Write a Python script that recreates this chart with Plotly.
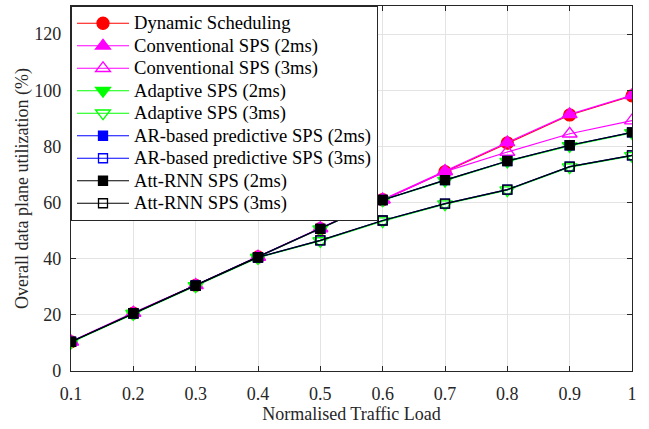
import plotly.graph_objects as go

load = [0.1, 0.2, 0.3, 0.4, 0.5, 0.6, 0.7, 0.8, 0.9, 1.0]
x_ticks = [0.1, 0.2, 0.3, 0.4, 0.5, 0.6, 0.7, 0.8, 0.9, 1.0]
x_tick_labels = ["0.1", "0.2", "0.3", "0.4", "0.5", "0.6", "0.7", "0.8", "0.9", "1"]
y_ticks = [0, 20, 40, 60, 80, 100, 120]

dynamic = [10.4, 20.6, 30.5, 40.6, 50.7, 61.0, 71.0, 81.2, 91.2, 98.0]
conv_2ms = [10.5, 20.7, 30.6, 40.7, 50.9, 61.1, 71.2, 81.4, 91.4, 98.2]
conv_3ms = [10.4, 20.6, 30.5, 40.6, 50.7, 61.0, 71.0, 78.0, 84.5, 89.2]
adapt_2ms = [10.3, 20.4, 30.3, 40.4, 50.5, 60.8, 67.8, 74.6, 80.2, 84.8]
adapt_3ms = [10.3, 20.4, 30.3, 40.4, 46.3, 53.4, 59.4, 64.4, 72.6, 76.6]
ar_2ms = [10.4, 20.5, 30.4, 40.5, 50.6, 60.9, 68.0, 74.8, 80.4, 85.0]
ar_3ms = [10.4, 20.5, 30.4, 40.5, 46.5, 53.6, 59.6, 64.6, 72.8, 76.8]
att_2ms = [10.4, 20.5, 30.4, 40.5, 50.6, 60.9, 68.0, 74.8, 80.4, 85.0]
att_3ms = [10.4, 20.5, 30.4, 40.5, 46.5, 53.6, 59.6, 64.6, 72.8, 76.8]

series = [
    ("Dynamic Scheduling", dynamic, "#ff0000", "circle", 12),
    ("Conventional SPS (2ms)", conv_2ms, "#ff00ff", "triangle-up", 13),
    ("Conventional SPS (3ms)", conv_3ms, "#ff00ff", "triangle-up-open", 13),
    ("Adaptive SPS (2ms)", adapt_2ms, "#00ff00", "triangle-down", 13),
    ("Adaptive SPS (3ms)", adapt_3ms, "#00ff00", "triangle-down-open", 13),
    ("AR-based predictive SPS (2ms)", ar_2ms, "#0000ff", "square", 9),
    ("AR-based predictive SPS (3ms)", ar_3ms, "#0000ff", "square-open", 9),
    ("Att-RNN SPS (2ms)", att_2ms, "#000000", "square", 9),
    ("Att-RNN SPS (3ms)", att_3ms, "#000000", "square-open", 9),
]

font_family = "Liberation Serif"
legend_text_px = 18.6

fig = go.Figure()
for name, vals, color, sym, size in series:
    fig.add_trace(go.Scatter(
        x=load, y=vals,
        name="<span style='font-size:%spx'>%s</span>" % (legend_text_px, name),
        mode="lines+markers",
        line=dict(color=color, width=1.2),
        marker=dict(symbol=sym, size=size, color=color,
                    line=dict(color=color, width=1.3)),
    ))

axis_common = dict(
    showline=True, linecolor="#262626", linewidth=1.2, mirror="ticks",
    ticks="inside", ticklen=5, tickcolor="#262626",
    showgrid=True, gridcolor="#e3e3e3", gridwidth=1, zeroline=False,
    tickfont=dict(family=font_family, size=18, color="#262626"),
    automargin=False,
)

fig.update_layout(
    width=649, height=429,
    margin=dict(l=71, r=17, t=6, b=58),
    paper_bgcolor="white", plot_bgcolor="white",
    font=dict(family=font_family, size=18, color="#262626"),
    showlegend=True,
    legend=dict(
        x=0, y=1, xanchor="left", yanchor="top",
        bgcolor="white", bordercolor="#262626", borderwidth=1,
        font=dict(family=font_family, size=15.0, color="#000000"),
        itemwidth=52, tracegroupgap=0,
    ),
    xaxis=dict(
        range=[0.1, 1.0], tickvals=x_ticks, ticktext=x_tick_labels,
        ticklabelstandoff=6,
        title=dict(text="Normalised Traffic Load", font=dict(family=font_family, size=18), standoff=1),
        **axis_common,
    ),
    yaxis=dict(
        range=[0, 130], tickvals=y_ticks,
        ticklabelstandoff=5,
        title=dict(text="Overall data plane utilization (%)", font=dict(family=font_family, size=18), standoff=0),
        **axis_common,
    ),
)

fig.write_html("out.html", config={"displayModeBar": False},
               post_script="document.body.style.margin='0px';")
